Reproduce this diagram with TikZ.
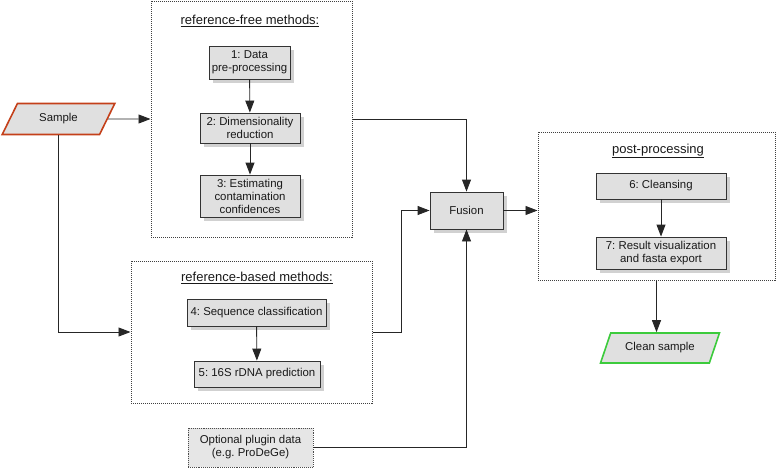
\documentclass[tikz,border=0pt]{standalone}
\usepackage{fontspec}
\setmainfont{Liberation Sans}
\frenchspacing
\usetikzlibrary{arrows.meta,shapes.geometric,shadows,calc}
\definecolor{boxfill}{HTML}{E0E0E0}
\definecolor{boxline}{HTML}{333333}
\definecolor{samplered}{HTML}{C4401A}
\definecolor{cleangreen}{HTML}{3CCB3C}
\begin{document}
\begin{tikzpicture}[x=1pt,y=-1pt,
  every node/.style={font=\fontsize{11.4}{13}\selectfont, text=black!90},
  stepbox/.style={draw=boxline, fill=boxfill, line width=0.9pt, align=center, inner sep=1pt,
     drop shadow={shadow xshift=4pt, shadow yshift=-4pt, fill=black!18, opacity=1}},
  groupbox/.style={draw=black!75, densely dotted, line width=1pt, inner sep=0pt},
  grouptitle/.style={font=\fontsize{13}{15}\selectfont},
  io/.style={trapezium, trapezium left angle=56, trapezium right angle=124, trapezium stretches=true,
     fill=boxfill, line width=1.6pt, inner sep=0pt, align=center},
  arr/.style={draw=black!85, line width=0.9pt, -{Triangle[length=12pt,width=9pt]}},
  ln/.style={draw=black!85, line width=0.9pt}
]
\useasboundingbox (0,0) rectangle (778,472);

% groups
\node[groupbox, minimum width=201pt, minimum height=236pt] (rf) at (251.5,119) {};
\node[groupbox, minimum width=241pt, minimum height=142pt] (rb) at (251.5,332) {};
\node[groupbox, minimum width=237pt, minimum height=148pt] (post) at (656.5,206) {};
\node[grouptitle] (rft) at (250,21) {\underline{reference-free methods:}};
\node[grouptitle] (rbt) at (257,278) {\underline{reference-based methods:}};
\node[grouptitle] (postt) at (658,151) {\underline{post-processing}};

% io
\node[io, draw=samplered, minimum width=113pt, minimum height=31pt] (sample) at (58.5,119) {Sample};
\node[io, draw=cleangreen, minimum width=120pt, minimum height=30pt] (clean) at (660,348) {Clean sample};

% steps
\node[stepbox, minimum width=81pt, minimum height=33pt] (b1) at (249.5,62.5) {1: Data\\pre-processing};
\node[stepbox, minimum width=100pt, minimum height=30pt] (b2) at (250,128) {2: Dimensionality\\reduction};
\node[stepbox, minimum width=100pt, minimum height=42pt] (b3) at (250,196) {3: Estimating\\contamination\\confidences};
\node[stepbox, minimum width=139pt, minimum height=27pt] (b4) at (256.5,312.5) {4: Sequence classification};
\node[stepbox, minimum width=126pt, minimum height=26pt] (b5) at (257,374) {5: 16S rDNA prediction};
\node[stepbox, minimum width=130pt, minimum height=26pt] (b6) at (661,186) {6: Cleansing};
\node[stepbox, minimum width=130pt, minimum height=32pt] (b7) at (661,253) {7: Result visualization\\and fasta export};
\node[stepbox, minimum width=73pt, minimum height=37pt] (fusion) at (466.5,210.5) {Fusion};
\node[draw=black!70, densely dotted, line width=0.9pt, fill=boxfill!80!white, align=center,
      minimum width=125pt, minimum height=39pt, inner sep=1pt] (plugin) at (250.5,447.5)
      {Optional plugin data\\(e.g. ProDeGe)};

\coordinate (j1) at (401,0);

% connectors
\draw[arr] (b1) -- (b2);
\draw[arr] (b2) -- (b3);
\draw[arr] (b4) -- (b5);
\draw[arr] (b6) -- (b7);
\draw[arr] (sample.east) -- (rf.west);
\draw[arr] (sample.south) |- (rb.west);
\draw[arr] (rf.east) -| (fusion.north);
\draw[arr] (rb.east) -- (rb.east -| j1) |- (fusion.west);
\draw[arr] (plugin.east) -| (fusion.south);
\draw[arr] (fusion.east) -- (fusion.east -| post.west);
\draw[arr] (post.south) -- (post.south |- clean.north);
\end{tikzpicture}
\end{document}
